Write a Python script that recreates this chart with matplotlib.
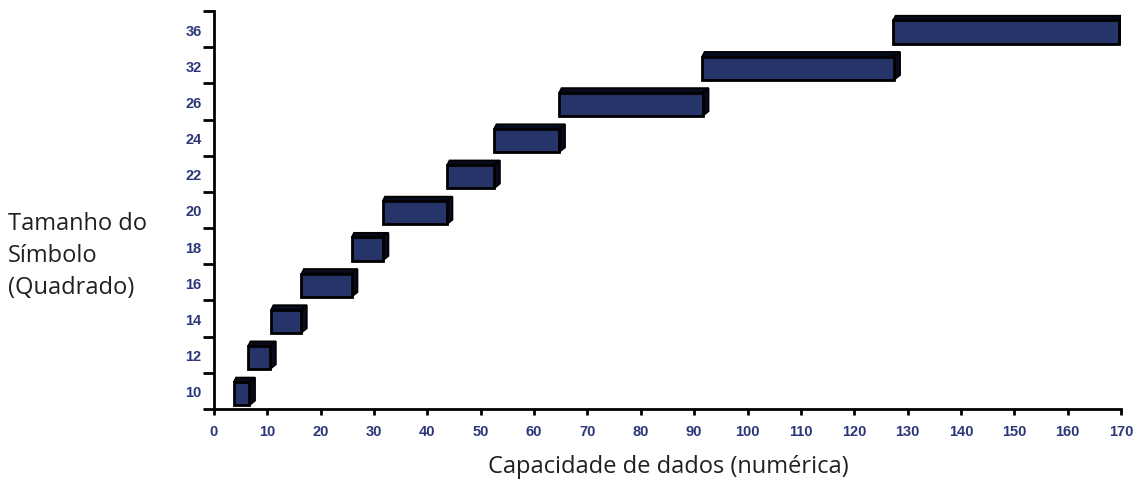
import numpy as np
import matplotlib.pyplot as plt
from matplotlib.patches import Polygon, Rectangle
from matplotlib.ticker import FixedLocator

# symbol sizes (square) and the capacity range covered by each
sizes = ['10', '12', '14', '16', '18', '20', '22', '24', '26', '32', '36']
cap_start = [3.7, 6.4, 10.7, 16.4, 25.8, 31.6, 43.7, 52.5, 64.7, 91.5, 127.3]
cap_end = [6.6, 10.5, 16.3, 25.8, 31.6, 43.6, 52.5, 64.7, 91.6, 127.5, 169.7]

face = '#27346a'
dark = '#070b1c'
tick_col = '#2b3679'
text_col = '#231f20'

fig = plt.figure(figsize=(11.4, 4.81), dpi=100)
ax = fig.add_axes([214/1140, (481-410)/481, (1121-214)/1140, (410-12)/481])

h = 0.64      # front face height (category units)
off = -0.08   # front face shifted down a bit
dx = 1.1      # depth to the right (data units)
dy = 0.13     # depth upwards

for i, (s, e) in enumerate(zip(cap_start, cap_end)):
    bot = i + off - h / 2
    top = i + off + h / 2
    # top face
    ax.add_patch(Polygon([(s, top), (s + dx * 0.4, top + dy), (e + dx, top + dy), (e, top)],
                         closed=True, facecolor=dark, edgecolor='black', lw=1.2, zorder=2))
    # right face
    ax.add_patch(Polygon([(e, bot), (e + dx, bot + dy), (e + dx, top + dy), (e, top)],
                         closed=True, facecolor=dark, edgecolor='black', lw=1.2, zorder=2))
    # front face
    ax.add_patch(Rectangle((s, bot), e - s, h, facecolor=face, edgecolor='black',
                           lw=2, zorder=3))

ax.set_xlim(0, 170)
ax.set_ylim(-0.5, len(sizes) - 0.5)

ax.set_xticks(np.arange(0, 171, 10))
ax.set_yticks(range(len(sizes)))
ax.set_yticklabels(sizes)
ax.yaxis.set_minor_locator(FixedLocator(np.arange(-0.5, len(sizes), 1)))

for lab in ax.get_xticklabels() + ax.get_yticklabels():
    lab.set_fontfamily('Liberation Sans')
    lab.set_fontweight('bold')
    lab.set_fontsize(10.5)
    lab.set_color(tick_col)

ax.tick_params(axis='y', which='major', length=0, pad=9)
ax.tick_params(axis='y', which='minor', length=8, width=2, color='black')
ax.tick_params(axis='x', which='major', length=4, width=2, color='black', pad=7)

for sp in ['top', 'right']:
    ax.spines[sp].set_visible(False)
for sp in ['left', 'bottom']:
    ax.spines[sp].set_linewidth(2)

fig.text(488/1140, 1 - 467/481, 'Capacidade de dados (numérica)', family='Open Sans',
         fontsize=17, color=text_col, ha='left', va='center')
fig.text(8/1140, 1 - 256/481, 'Tamanho do\nSímbolo\n(Quadrado)', family='Open Sans',
         fontsize=17, color=text_col, ha='left', va='center', linespacing=1.45)

fig.savefig('out.png', dpi=100)
